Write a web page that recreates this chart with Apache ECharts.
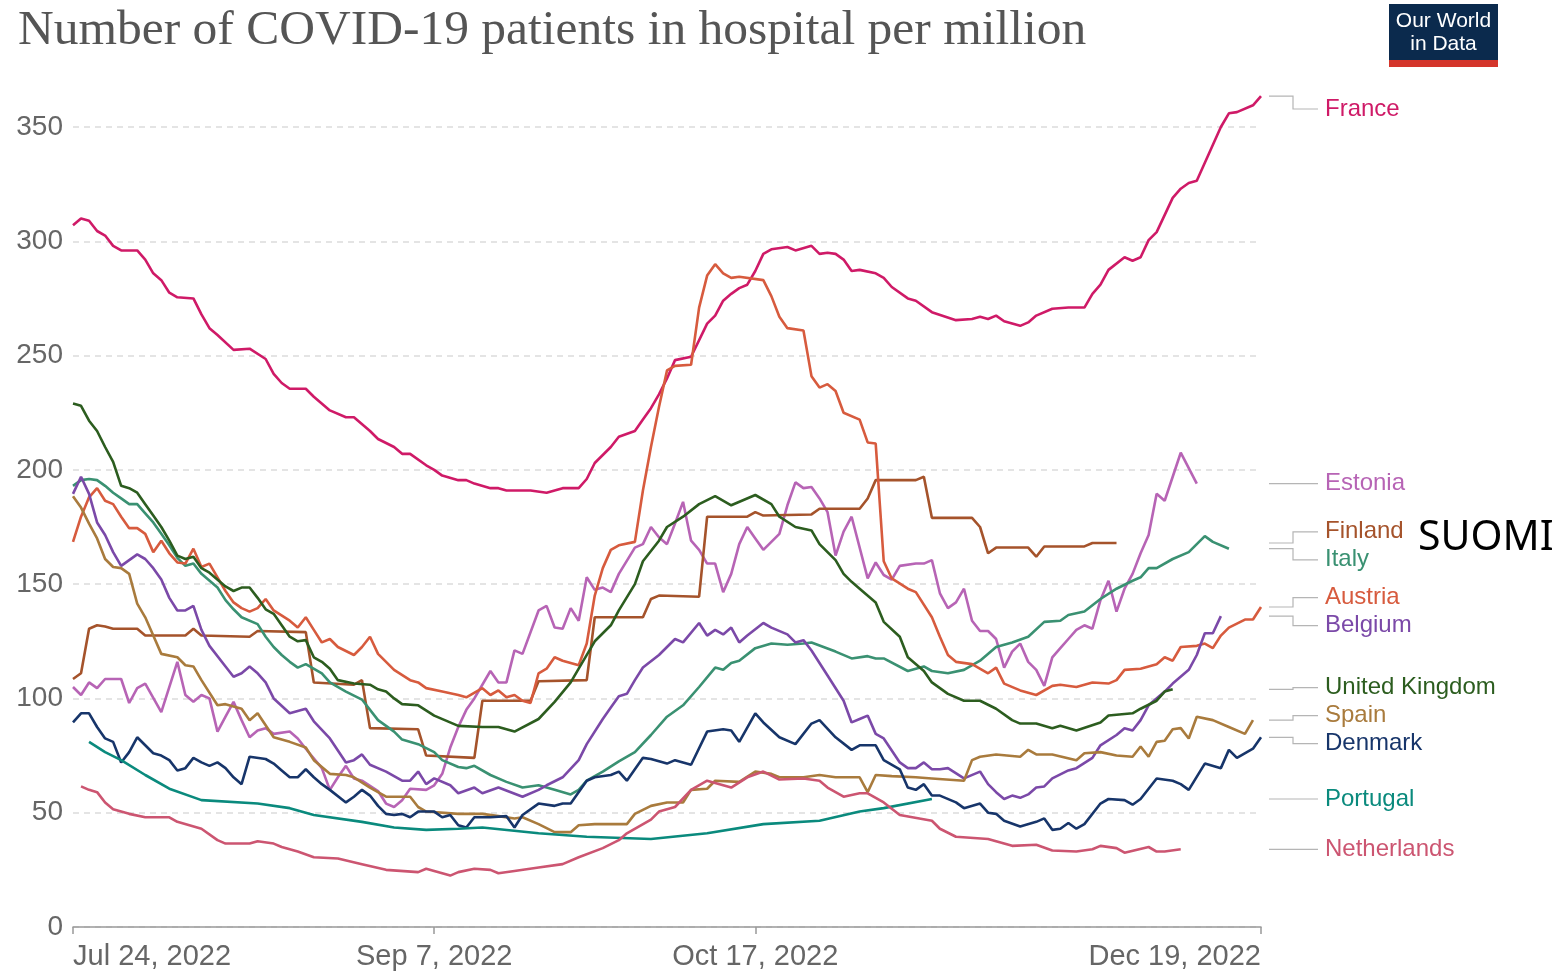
<!DOCTYPE html>
<html>
<head>
<meta charset="utf-8">
<title>COVID-19 patients in hospital per million</title>
<script src="https://cdn.jsdelivr.net/npm/echarts@6/dist/echarts.min.js"></script>
<style>
  html, body { margin: 0; padding: 0; background: #fff; }
  #chart { width: 1558px; height: 972px; }
</style>
</head>
<body>
<div id="chart"></div>
<script>
// x values: days since Jul 24, 2022
const tickDays = [0, 45, 85, 148];
const yTicks = [0, 50, 100, 150, 200, 250, 300, 350];

const france = [[0,307],[1,310],[2,309],[3,304.5],[4,302.5],[5,298],[6,296],[8,296],[9,292],[10,286],[11,283],[12,277.5],[13,275.5],[15,275],[16,268],[17,262],[18,259],[20,252.5],[22,253],[24,248.5],[25,242],[26,238],[27,235.5],[29,235.5],[30,232],[32,226],[34,223],[35,223],[37,217],[38,213.5],[40,210],[41,207],[42,207],[44,202],[45,200],[46,197.5],[48,195.5],[49,195.5],[50,194],[52,192],[53,192],[54,191],[57,191],[59,190],[61,192],[63,192],[64,196],[65,203],[67,210],[68,214.5],[70,217],[71,222],[72,227],[73,233],[74,240],[75,248],[77,249.5],[79,264],[80,267.5],[81,274],[82,277],[83,279.5],[84,281],[85,287],[86,294.5],[87,296.5],[89,297.5],[90,296],[92,298],[93,294.5],[94,295],[95,294.5],[96,292],[97,287],[98,287.5],[100,286],[101,284],[102,280],[104,275],[105,274],[107,269],[110,265.5],[112,266],[113,267],[114,266],[115,267.5],[116,265],[118,263],[119,264.5],[120,267.5],[122,270.5],[124,271],[126,271],[127,277],[128,281],[129,287.5],[131,293],[132,291.5],[133,293],[134,300.5],[135,304],[137,319],[138,323],[139,325.5],[140,326.5],[143,350],[144,356],[145,356.5],[147,359.5],[148,363.5]];

const estonia = [[0,105],[1,101.5],[2,107],[3,104.5],[4,108.5],[6,108.5],[7,98],[8,104.5],[9,106.5],[11,94],[13,116],[14,101.5],[15,98.5],[16,101.5],[17,100],[18,85.5],[19,92],[20,98.5],[21,90.5],[22,83],[23,86],[24,87],[25,84.5],[27,85.5],[28,82.5],[29,78],[31,69.5],[32,60],[33,65.5],[34,70.5],[35,65],[36,64],[38,59.5],[39,54],[40,52.5],[41,55.5],[42,60.5],[44,60],[45,62],[46,67],[47,78.5],[48,87.5],[49,95],[50,100],[52,112],[53,107],[54,107],[55,121],[56,119.5],[58,138.5],[59,140.5],[60,131],[61,130.5],[62,139.5],[63,134],[64,153],[65,147.5],[66,148.5],[67,146.5],[68,154.5],[70,166],[71,167.5],[72,175],[73,170.5],[74,167.5],[75,176.5],[76,186],[77,169],[78,165],[79,159],[80,159],[81,146.5],[82,154.5],[83,167.5],[84,175],[85,170],[86,165],[87,168.5],[88,172],[89,184.5],[90,194.5],[91,192],[92,192.5],[93,187.5],[94,181.5],[95,162.5],[96,173],[97,179.5],[99,152.5],[100,159.5],[101,154],[102,152],[103,158],[105,159],[106,159],[107,160.5],[108,146],[109,139.5],[110,142],[111,148],[112,134],[113,129.5],[114,129.5],[115,126],[116,113.5],[117,120.5],[118,124],[119,116],[120,112.5],[121,105.5],[122,118],[123,122],[124,126],[125,130],[126,132],[127,130.5],[128,143],[129,151.5],[130,138],[131,148],[132,154.5],[133,163.5],[134,171.5],[135,189.5],[136,186.5],[137,197],[138,207.5],[140,194]];

const finland = [[0,108.5],[1,111],[2,130.5],[3,132],[4,131.5],[5,130.5],[8,130.5],[9,127.5],[14,127.5],[15,130.5],[16,127.5],[22,127],[23,129.5],[29,129],[30,107],[35,106],[36,108],[37,87],[43,86.5],[44,75],[50,74],[51,99],[57,99],[58,107.5],[64,108],[65,135.5],[71,135.5],[72,143.5],[73,145],[78,144.5],[79,179.5],[84,179.5],[85,181.5],[86,180],[92,180.5],[93,183],[98,183],[99,187.5],[100,195.5],[105,195.5],[106,197],[107,179],[112,179],[113,175],[114,163.5],[115,166],[119,166],[120,162],[121,166.5],[126,166.5],[127,168],[130,168]];

const italy = [[0,193],[1,195.5],[2,196],[3,195.5],[4,193],[5,190],[6,187.5],[7,185],[8,185],[9,181],[10,177],[11,172],[12,167],[13,161.5],[14,158],[15,159],[16,154.5],[18,148.5],[19,143],[20,139],[21,135.5],[23,132.5],[24,127],[25,122.5],[26,119],[27,116],[28,113.5],[29,115],[31,111],[32,107],[34,103],[36,99.5],[38,90.5],[40,85.5],[41,82],[43,80],[45,76.5],[46,73],[48,70],[49,69.5],[50,70.5],[52,66.5],[54,63.5],[56,61],[58,62],[60,60],[62,58],[63,60],[64,64],[66,68],[68,72.5],[70,76.5],[72,84],[74,92],[75,94.5],[76,97],[78,105],[80,113.5],[81,112.5],[82,115.5],[83,116.5],[85,122],[87,124],[89,123.5],[91,124],[92,124.5],[95,120.5],[97,117.5],[99,118.5],[100,117.5],[101,117.5],[104,112],[106,114],[107,112],[109,111],[111,112.5],[113,116.5],[115,122.5],[117,124.5],[119,127],[121,133.5],[123,134],[124,136.5],[126,138],[128,143.5],[130,148],[132,151.5],[133,153],[134,157],[135,157],[137,161],[139,164],[140,167.5],[141,171],[142,168.5],[144,165.5]];

const austria = [[0,168.5],[1,179.5],[2,188],[3,192],[4,186.5],[5,185],[6,179.5],[7,174.5],[8,174.5],[9,172],[10,164],[11,169],[12,163.5],[13,159.5],[14,159],[15,165.5],[16,157.5],[17,159],[18,153],[19,147],[20,142],[21,139.5],[22,138],[23,139.5],[24,143.5],[25,138.5],[27,134],[28,131],[29,135.5],[30,130],[31,124.5],[32,126],[33,122.5],[35,119],[36,122.5],[37,127],[38,119.5],[40,112.5],[42,108],[43,107],[44,104.5],[46,103],[48,101.5],[49,100.5],[51,104.5],[52,101.5],[53,103.5],[54,100.5],[55,101.5],[56,99],[57,98],[58,111],[59,113],[60,118],[61,116.5],[63,114.5],[64,124],[65,145],[66,157],[67,165],[68,167],[70,168.5],[71,191],[72,210],[73,227.5],[74,243.5],[75,245.5],[77,246],[78,271],[79,285],[80,290],[81,286],[82,284],[83,284.5],[86,283],[87,276],[88,267],[89,262],[91,261],[92,241],[93,236],[94,237.5],[95,234.5],[96,225],[98,222],[99,212],[100,211.5],[101,160],[102,152.5],[104,148],[105,146.5],[107,135.5],[108,127],[109,119],[110,116],[112,115],[114,111],[115,113.5],[116,106.5],[118,103.5],[120,101.5],[122,105.5],[123,106],[125,105],[127,107],[129,106.5],[130,108],[131,112.5],[133,113],[135,115],[136,118],[137,116.5],[138,122.5],[140,123],[141,124],[142,122],[143,127.5],[144,131],[146,134.5],[147,134.5],[148,140]];

const belgium = [[0,189.5],[1,197],[2,189.5],[3,177],[4,171.5],[5,164],[6,158],[7,160.5],[8,163],[9,161],[10,157],[11,152],[12,144],[13,138.5],[14,138.5],[15,140.5],[16,130],[17,123],[19,114],[20,109.5],[21,111],[22,114],[23,111],[24,107],[25,100],[27,93.5],[29,95.5],[30,90],[32,82.5],[34,72],[35,73],[36,75.5],[37,71],[39,68],[41,64],[42,64],[43,68],[44,62.5],[45,65],[47,62],[48,58.5],[50,61],[51,58.5],[53,61],[56,57],[58,60],[59,62],[61,65.5],[63,73],[64,80],[66,91],[67,96],[68,101],[69,102],[70,108],[71,113.5],[73,119],[75,126],[76,124.5],[78,133],[79,127.5],[80,130],[81,128],[82,131],[83,124.5],[84,127.5],[86,133],[87,131],[89,128],[90,124.5],[91,125.5],[92,121],[94,110],[96,99],[97,89.5],[98,91],[99,92.5],[100,84.5],[101,82.5],[103,72],[104,69.5],[105,69.5],[106,72],[107,69],[108,69],[109,69.5],[111,65],[113,68],[114,62.5],[115,59],[116,56],[117,57.5],[118,56.5],[119,58],[120,61],[121,61.5],[122,65],[124,68.5],[125,69.5],[127,74],[128,79.5],[130,84],[131,87],[132,86],[133,90.5],[134,97],[136,103],[137,106.5],[139,112.5],[140,119],[141,128.5],[142,128.5],[143,136]];

const unitedKingdom = [[0,229],[1,228],[2,221.5],[3,217],[4,210],[5,203.5],[6,193],[7,192],[8,190],[9,185],[10,180],[11,175],[12,169],[13,162.5],[14,161],[15,162],[16,157],[17,155],[19,149],[20,147],[21,148.5],[22,148.5],[23,144],[24,139],[25,137],[26,132],[27,127],[28,125],[29,125.5],[30,118],[31,116],[32,113],[33,108],[35,106.5],[37,106],[38,104],[39,103],[40,100],[41,97.5],[43,97],[45,92.5],[48,88],[51,87.5],[53,87.5],[55,85.5],[58,91],[60,98.5],[62,107],[63,113],[65,125],[67,132],[68,138.5],[70,150],[71,160],[73,169],[74,175],[76,179.5],[78,185],[80,188.5],[82,184.5],[85,189],[87,185],[88,179.5],[90,175],[92,173.5],[93,167.5],[95,160.5],[96,154.5],[97,151],[98,148],[100,142],[101,133.5],[103,127],[104,118],[106,112],[107,107],[109,102],[111,99],[113,99],[115,95.5],[117,90.5],[118,89],[120,89],[122,87],[123,88],[125,86],[128,89.5],[129,92.5],[132,93.5],[133,95.5],[135,99],[136,103],[137,104]];

const spain = [[0,188.5],[1,183.5],[2,176.5],[3,170],[4,161],[5,157.5],[6,157],[7,154.5],[8,141.5],[9,135.5],[10,127.5],[11,119.5],[13,118],[14,114.5],[15,114],[16,108],[18,97],[19,97.5],[21,95.5],[22,90.5],[23,93.5],[25,83],[27,81],[29,78.5],[30,73],[32,67],[34,66.5],[35,65.5],[37,61],[39,57],[42,57],[43,52.5],[44,50.5],[48,49.5],[51,49.5],[53,48.5],[55,47.5],[56,48],[58,45],[60,41.5],[62,41.5],[63,44.5],[65,45],[69,45],[70,49.5],[72,53],[74,54.5],[76,54.5],[77,60],[79,60.5],[80,64],[83,63.5],[85,68],[87,67],[88,65.5],[91,65.5],[93,66.5],[95,65.5],[98,65.5],[99,59],[100,66.5],[102,66],[105,65.5],[107,65],[111,64],[112,73],[113,74.5],[115,75.5],[118,74.5],[119,77.5],[120,75.5],[122,75.5],[125,73],[126,76],[128,76.5],[130,75],[132,74.5],[133,79],[134,74.5],[135,81],[136,81.5],[137,86.5],[138,87],[139,82.5],[140,92],[142,90.5],[144,87.5],[146,84.5],[147,90.5]];

const denmark = [[0,89.5],[1,93.5],[2,93.5],[3,87.5],[4,82.5],[5,81],[6,72],[7,76.5],[8,83],[9,79.5],[10,76],[11,75],[12,73],[13,68.5],[14,69.5],[15,74],[16,72],[17,70.5],[18,72],[19,69.5],[20,65.5],[21,62.5],[22,74.5],[24,73.5],[25,71.5],[26,68.5],[27,65.5],[28,65.5],[29,69],[30,65.5],[31,62.5],[32,60],[34,54.5],[35,57],[36,60],[37,57.5],[38,53],[39,49.5],[40,49],[41,49.5],[42,48],[43,50.5],[45,50.5],[46,48],[47,49],[48,44.5],[49,43.5],[50,48],[52,48],[54,48.5],[55,43.5],[56,49],[58,54],[60,53],[61,54],[62,54],[64,64],[65,65.5],[67,66.5],[68,68],[69,64],[71,74],[72,73.5],[74,71.5],[75,73],[77,71],[79,85.5],[81,86.5],[82,86],[83,81],[85,93.5],[86,89.5],[88,83],[90,80],[92,89],[93,90.5],[95,83],[97,77.5],[98,79.5],[100,79.5],[101,73],[103,69],[104,61],[105,60],[106,62.5],[107,57.5],[108,57.5],[110,54.5],[111,52],[113,54],[114,50],[115,49.5],[116,46.5],[118,44],[120,46],[121,47.5],[122,42.5],[123,43],[124,45.5],[125,43],[126,45],[128,54],[129,56],[131,55.5],[132,53.5],[133,56],[135,65],[137,64],[138,62.5],[139,60],[141,71.5],[143,69.5],[144,77.5],[145,74],[147,78],[148,83]];

const portugal = [[2,81],[4,76.5],[6,73],[9,66.5],[12,60.5],[16,55.5],[23,54],[27,52],[30,49],[36,46],[40,43.5],[44,42.5],[48,43],[51,43.5],[58,41],[64,39.5],[72,38.5],[79,41],[86,45],[93,46.5],[98,50.5],[101,52],[107,56]];

const netherlands = [[1,61.5],[2,60],[3,59],[4,54.5],[5,51.5],[7,49.5],[9,48],[12,48],[13,46],[16,43],[18,38],[19,36.5],[22,36.5],[23,37.5],[25,36.5],[26,35],[28,33],[30,30.5],[33,30],[36,27.5],[39,25],[43,24],[44,25.5],[46,23.5],[47,22.5],[48,24],[50,25.5],[52,25],[53,23.5],[55,24.5],[58,26],[61,27.5],[63,30.5],[66,34.5],[68,38],[69,41],[72,47],[73,50.5],[75,52.5],[77,60],[79,64],[82,61],[84,65.5],[86,68],[88,64.5],[91,65],[93,64],[94,61],[96,57],[98,58.5],[99,58.5],[101,54.5],[103,49],[107,46.5],[108,43],[110,39.5],[114,38.5],[117,35.5],[120,36],[122,33.5],[125,33],[127,34],[128,35.5],[130,34.5],[131,32.5],[134,35],[135,33],[136,33],[138,34]];

const countries = [
  { name: 'France', data: france, color: '#cf1a67' },
  { name: 'Estonia', data: estonia, color: '#b764b5' },
  { name: 'Finland', data: finland, color: '#a5532b' },
  { name: 'Italy', data: italy, color: '#3a9172' },
  { name: 'Austria', data: austria, color: '#d75b3e' },
  { name: 'Belgium', data: belgium, color: '#7b49a8' },
  { name: 'United Kingdom', data: unitedKingdom, color: '#2c5d1f' },
  { name: 'Spain', data: spain, color: '#a97b3d' },
  { name: 'Denmark', data: denmark, color: '#17356a' },
  { name: 'Portugal', data: portugal, color: '#0a8a7d' },
  { name: 'Netherlands', data: netherlands, color: '#cc5571' }
];

const MONTHS = ['Jan','Feb','Mar','Apr','May','Jun','Jul','Aug','Sep','Oct','Nov','Dec'];
const fmtDay = day => {
  const d = new Date(2022, 6, 24 + Math.round(day));
  return MONTHS[d.getMonth()] + ' ' + d.getDate() + ', ' + d.getFullYear();
};

var myChart = echarts.init(document.getElementById('chart'));
const axisFont = { fontFamily: 'Liberation Sans, Arial, sans-serif', fontSize: 28, color: '#666' };

myChart.setOption({
  backgroundColor: '#fff',
  animation: false,
  title: {
    text: 'Number of COVID-19 patients in hospital per million',
    left: 13,
    top: 1,
    textStyle: { fontFamily: 'Liberation Serif, serif', fontSize: 49.5, fontWeight: 'normal', color: '#555' }
  },
  grid: { left: 73, right: 297, top: 127, bottom: 45, containLabel: false },
  xAxis: {
    type: 'value',
    min: tickDays[0],
    max: tickDays[tickDays.length - 1],
    axisLine: { lineStyle: { color: '#999', width: 1.5 } },
    axisTick: { show: true, length: 7, lineStyle: { color: '#999', width: 1.5 }, customValues: tickDays },
    axisLabel: {
      ...axisFont,
      fontSize: 29,
      margin: 15,
      customValues: tickDays,
      formatter: v => fmtDay(v),
      alignMinLabel: 'left',
      alignMaxLabel: 'right'
    },
    splitLine: { show: false }
  },
  yAxis: {
    type: 'value',
    min: yTicks[0],
    max: yTicks[yTicks.length - 1],
    interval: 50,
    axisLine: { show: false },
    axisTick: { show: false },
    axisLabel: { ...axisFont, margin: 10 },
    splitLine: { lineStyle: { color: '#dcdcdc', type: [6, 5], width: 1.5 } }
  },
  series: countries.map(c => ({
    name: c.name,
    type: 'line',
    showSymbol: false,
    clip: false,
    color: c.color,
    lineStyle: { width: 2.6, color: c.color },
    data: c.data
  }))
});

// right-hand labels: anchored at each series' last value, spread apart to avoid overlaps
const gap = 28;
const xEnd = myChart.convertToPixel({ xAxisIndex: 0 }, tickDays[tickDays.length - 1]);
let labels = countries.map(c => {
  const last = c.data[c.data.length - 1][1];
  const y = myChart.convertToPixel({ yAxisIndex: 0 }, last);
  return { c, y0: y, target: Math.max(y, 109) };
}).sort((a, b) => a.target - b.target);

let groups = labels.map(l => ({ items: [l], center: l.target }));
let merged = true;
while (merged) {
  merged = false;
  for (let i = 0; i < groups.length - 1; i++) {
    const a = groups[i], b = groups[i + 1];
    const aBottom = a.center + (a.items.length - 1) * gap / 2;
    const bTop = b.center - (b.items.length - 1) * gap / 2;
    if (bTop - aBottom < gap) {
      const items = a.items.concat(b.items);
      const center = items.reduce((s, l) => s + l.target, 0) / items.length;
      groups.splice(i, 2, { items, center });
      merged = true;
      break;
    }
  }
}
groups.forEach(g => g.items.forEach((l, i) => { l.y = g.center + (i - (g.items.length - 1) / 2) * gap; }));

const x1 = xEnd + 8, x2 = xEnd + 32, x3 = xEnd + 57, xText = xEnd + 64;
const graphics = [];
labels.forEach(l => {
  graphics.push({
    type: 'polyline',
    silent: true,
    shape: { points: [[x1, l.y0], [x2, l.y0], [x2, l.y], [x3, l.y]] },
    style: { stroke: '#b5b5b5', lineWidth: 1.2, fill: null }
  });
  graphics.push({
    type: 'text',
    silent: true,
    x: xText,
    y: l.y,
    style: {
      text: l.c.name,
      fill: l.c.color,
      font: '24px "Liberation Sans", Arial, sans-serif',
      verticalAlign: 'middle'
    }
  });
});

const finlandLabel = labels.find(l => l.c.name === 'Finland');
graphics.push({
  type: 'text',
  silent: true,
  x: 1418,
  y: finlandLabel.y + 6,
  style: {
    text: 'SUOMI',
    fill: '#000',
    font: '41px "Noto Sans", "Open Sans", sans-serif',
    verticalAlign: 'middle'
  }
});

// Our World in Data logo
graphics.push(
  { type: 'rect', silent: true, shape: { x: 1389, y: 4, width: 109, height: 57 }, style: { fill: '#0b2a4d' } },
  { type: 'rect', silent: true, shape: { x: 1389, y: 60, width: 109, height: 7 }, style: { fill: '#d4352b' } },
  {
    type: 'text', silent: true, x: 1443.5, y: 21,
    style: { text: 'Our World', fill: '#fff', font: '21px "Liberation Sans Narrow", "Liberation Sans", sans-serif', align: 'center', verticalAlign: 'middle' }
  },
  {
    type: 'text', silent: true, x: 1443.5, y: 44,
    style: { text: 'in Data', fill: '#fff', font: '21px "Liberation Sans Narrow", "Liberation Sans", sans-serif', align: 'center', verticalAlign: 'middle' }
  }
);

myChart.setOption({ graphic: graphics });
window.addEventListener('resize', myChart.resize);
</script>
</body>
</html>
